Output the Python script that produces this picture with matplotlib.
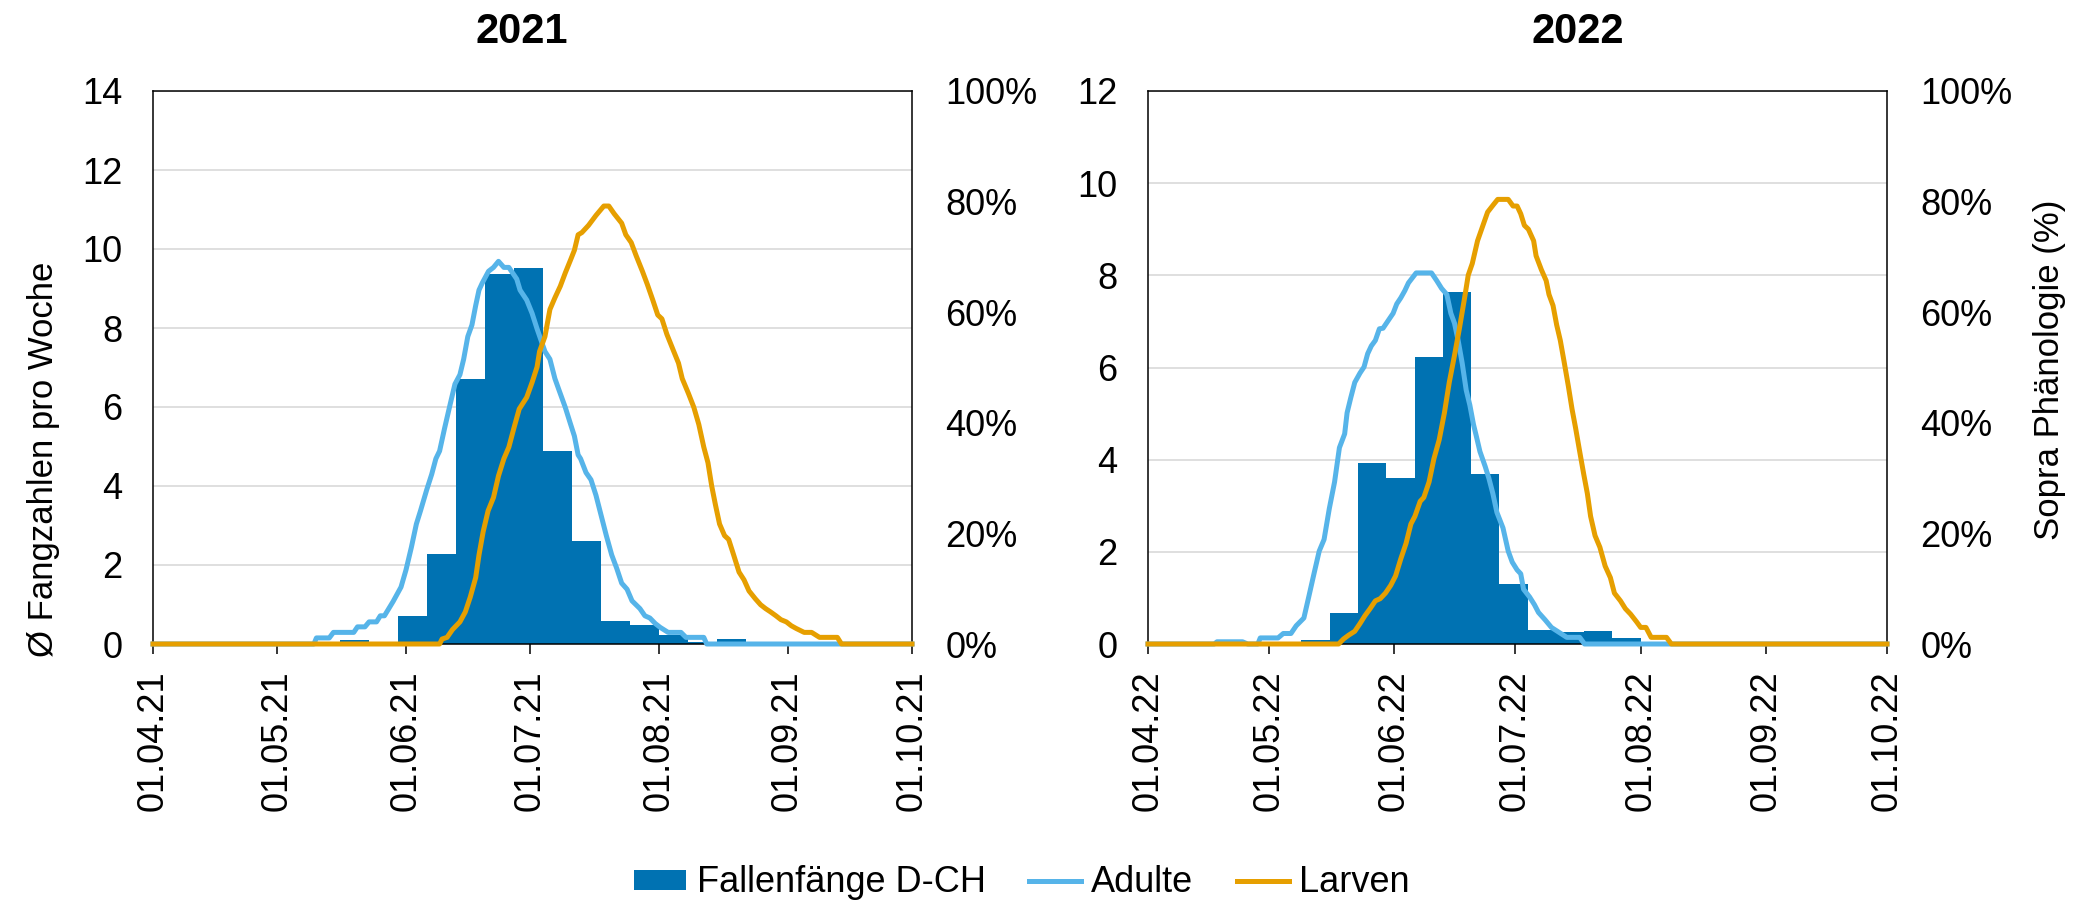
import numpy as np
import matplotlib
matplotlib.use('Agg')
import matplotlib.pyplot as plt
import matplotlib.dates as mdates
from matplotlib.patches import Patch
from matplotlib.lines import Line2D
from matplotlib.ticker import FuncFormatter

plt.rcParams['font.family'] = ['Liberation Sans', 'DejaVu Sans']

# ---------------- data ----------------
years = ['2021', '2022']
season_start = {'2021': '2021-04-01', '2022': '2022-04-01'}
season_end = {'2021': '2021-10-01', '2022': '2022-10-01'}
tick_months = ['04-01', '05-01', '06-01', '07-01', '08-01', '09-01', '10-01']
ymax_left = {'2021': 14, '2022': 12}

# weekly trap catches (Fallenfänge D-CH), week start dates and mean catch per week
bar21_weeks = ['2021-04-25', '2021-05-02', '2021-05-09', '2021-05-16', '2021-05-23',
               '2021-05-30', '2021-06-06', '2021-06-13', '2021-06-20', '2021-06-27',
               '2021-07-04', '2021-07-11', '2021-07-18', '2021-07-25', '2021-08-01',
               '2021-08-08', '2021-08-15', '2021-08-22']
bar21_vals = [0.03, 0, 0, 0.10, 0, 0.71, 2.29, 6.72, 9.37, 9.53,
              4.88, 2.60, 0.59, 0.48, 0.22, 0.05, 0.13, 0]

bar22_weeks = ['2022-05-09', '2022-05-16', '2022-05-23', '2022-05-30', '2022-06-06',
               '2022-06-13', '2022-06-20', '2022-06-27', '2022-07-04', '2022-07-11',
               '2022-07-18', '2022-07-25', '2022-08-01', '2022-08-08']
bar22_vals = [0.08, 0.67, 3.93, 3.60, 6.22, 7.63, 3.68, 1.30, 0.30, 0.25,
              0.28, 0.13, 0.05, 0]

# phenology curves (days after 1 April, percent)
ad21_d = [0, 38.8, 39.4, 42.5, 43.5, 48.4, 49.3, 51.1, 52.1, 53.9, 54.8, 55.8, 57.9, 59.8,
          61.0, 62.3, 63.5, 64.5, 66.0, 67.2, 68.2, 69.1, 70.3, 71.6, 72.8, 74.0, 74.9, 75.9,
          76.9, 77.8, 78.6, 79.4, 80.9, 82.1, 83.3, 84.6, 85.8, 87.7, 88.5, 90.1, 91.4, 92.6,
          94.5, 95.7, 96.9, 97.9, 99.4, 100.7, 101.6, 102.5, 103.1, 104.4, 105.6, 106.8, 108.1,
          109.3, 110.6, 111.8, 113.0, 114.3, 115.5, 117.4, 118.6, 119.8, 121.1, 122.3, 124.2,
          127.3, 128.5, 132.8, 133.5, 183]
ad21_p = [0, 0, 1.1, 1.1, 2.1, 2.1, 3.1, 3.1, 4.0, 4.0, 5.1, 5.1, 7.7, 10.3,
          13.4, 17.5, 21.7, 24.1, 27.9, 30.7, 33.5, 34.9, 39.0, 43.2, 47.0, 48.7, 51.5, 55.6,
          57.7, 61.2, 64.0, 65.3, 67.4, 68.1, 69.2, 68.1, 68.1, 66.0, 64.0, 62.2, 59.8, 57.0,
          52.9, 51.5, 48.0, 45.9, 42.8, 39.7, 37.6, 34.2, 33.5, 31.0, 29.7, 26.9, 23.1,
          19.6, 16.1, 13.7, 11.0, 9.9, 7.8, 6.4, 5.1, 4.7, 3.7, 3.0, 2.1,
          2.1, 1.2, 1.2, 0, 0]

lv21_d = [0, 69.1, 69.7, 70.9, 72.2, 74.0, 75.3, 76.5, 77.8, 78.6, 79.6, 80.8, 82.1, 83.3,
          84.6, 85.8, 87.0, 88.3, 90.1, 91.4, 92.6, 93.2, 94.5, 95.7, 96.9, 98.2, 99.4, 100.7,
          101.6, 102.5, 103.4, 105.0, 106.8, 108.7, 109.9, 111.2, 113.0, 114.0, 115.3, 116.5,
          118.0, 119.2, 120.5, 121.7, 122.7, 123.9, 125.4, 126.7, 127.6, 129.1, 130.4, 131.6,
          132.8, 133.8, 134.7, 135.6, 136.6, 137.8, 138.8, 140.0, 141.3, 142.5, 143.7, 145.2,
          146.5, 147.7, 148.9, 150.2, 151.4, 152.7, 153.9, 155.1, 157.0, 158.8, 160.7, 165.0,
          166.0, 183]
lv21_p = [0, 0, 0.9, 1.2, 2.6, 4.0, 5.8, 8.5, 12.0, 16.1, 20.3, 24.1, 26.5, 30.4,
          33.5, 35.6, 39.0, 42.5, 44.6, 47.3, 50.1, 52.9, 55.6, 60.5, 62.6, 64.7, 67.1, 69.5,
          71.2, 74.0, 74.4, 75.7, 77.5, 79.2, 79.2, 77.8, 76.1, 74.0, 72.6, 70.2,
          67.4, 65.0, 62.2, 59.5, 58.8, 56.0, 53.2, 50.8, 48.0, 45.3, 42.8, 39.7,
          35.6, 32.8, 28.6, 25.2, 21.7, 19.6, 18.9, 16.1, 13.0, 11.6, 9.6, 8.2,
          7.1, 6.4, 5.8, 5.1, 4.4, 4.0, 3.3, 2.8, 2.1, 2.1, 1.2, 1.2,
          0, 0]

ad22_d = [0, 16.4, 17.1, 23.4, 24.7, 27.2, 27.8, 32.2, 33.5, 35.4, 36.7, 38.6, 39.8, 41.1,
          42.4, 43.6, 44.9, 46.2, 47.4, 48.7, 49.3, 50.2, 51.2, 52.5, 53.5, 54.4, 55.3, 56.3,
          57.3, 58.2, 59.4, 60.7, 61.6, 62.6, 63.6, 64.5, 66.4, 70.2, 71.5, 72.7, 74.0, 75.0,
          75.9, 76.8, 77.8, 78.8, 79.7, 80.6, 81.3, 82.2, 83.5, 84.4, 85.4, 86.4, 87.9, 89.2,
          90.2, 91.4, 92.3, 93.0, 94.5, 95.7, 96.7, 98.3, 99.9, 101.8, 103.7, 106.9, 108.1, 183]
ad22_p = [0, 0, 0.4, 0.4, 0, 0, 1.1, 1.1, 1.9, 1.9, 3.3, 4.7, 8.5, 12.7,
          16.8, 18.9, 24.5, 29.3, 35.5, 38.0, 41.8, 44.5, 47.3, 49.0, 50.1, 52.5, 53.9, 54.9,
          57.0, 57.1, 58.4, 59.8, 61.5, 62.6, 63.9, 65.3, 67.1, 67.1, 65.7, 64.3, 63.2, 59.8,
          58.0, 54.9, 50.8, 45.9, 43.2, 39.7, 37.6, 34.8, 32.1, 30.0, 27.2, 23.8, 21.0, 16.8,
          14.8, 13.4, 12.7, 9.9, 8.5, 7.1, 5.7, 4.4, 3.0, 2.1, 1.2, 1.2, 0, 0]

lv22_d = [0, 47.2, 48.4, 49.7, 51.2, 52.5, 53.7, 55.0, 56.3, 57.5, 58.8, 60.1, 61.3, 62.6,
          63.9, 65.1, 66.1, 67.4, 68.3, 69.6, 70.8, 72.1, 73.4, 74.6, 75.9, 77.1, 78.4, 79.3,
          80.3, 81.6, 82.8, 84.1, 85.6, 86.6, 89.2, 90.4, 91.4, 92.3, 93.2, 94.2, 95.5, 96.1,
          97.4, 98.6, 99.3, 100.3, 101.2, 102.1, 103.1, 104.1, 105.0, 105.9, 106.9, 107.9,
          108.8, 109.6, 110.7, 111.9, 113.2, 114.5, 115.5, 117.0, 118.2, 119.5, 121.0, 122.0,
          123.3, 124.6, 128.4, 129.6, 183]
lv22_p = [0, 0, 0.9, 1.6, 2.3, 3.7, 5.1, 6.4, 7.8, 8.2, 9.2, 10.6, 12.3, 15.4,
          18.2, 21.7, 23.1, 25.8, 26.5, 29.3, 33.5, 36.9, 41.8, 47.3, 52.2, 57.0, 62.6, 66.7,
          68.8, 72.9, 75.4, 78.1, 79.5, 80.4, 80.4, 79.2, 79.2, 77.8, 75.7, 75.0, 72.9, 70.2,
          67.7, 65.7, 63.2, 61.2, 57.7, 54.9, 50.8, 46.6, 42.5, 39.0, 34.8, 30.7,
          27.2, 23.1, 19.6, 17.5, 14.1, 12.0, 9.2, 7.8, 6.4, 5.4, 4.0, 3.0,
          3.0, 1.2, 1.2, 0, 0]

bars = {'2021': (bar21_weeks, bar21_vals), '2022': (bar22_weeks, bar22_vals)}
adulte = {'2021': (ad21_d, ad21_p), '2022': (ad22_d, ad22_p)}
larven = {'2021': (lv21_d, lv21_p), '2022': (lv22_d, lv22_p)}

legend_labels = ['Fallenfänge D-CH', 'Adulte', 'Larven']
ylabel_left = 'Ø Fangzahlen pro Woche'
ylabel_right = 'Sopra Phänologie (%)'

# ---------------- style ----------------
C_BAR = '#0072B2'
C_AD = '#56B4E9'
C_LV = '#E69F00'
C_GRID = '#D9D9D9'
FS = 26
LW = 3.6

W, H = 2098, 906
fig = plt.figure(figsize=(W / 100, H / 100), dpi=100)

panel_px = {'2021': (153, 912), '2022': (1148, 1887)}
top_px, bot_px = 91, 644
title_x = {'2021': 522, '2022': 1578}

for yr in years:
    l, r = panel_px[yr]
    ax = fig.add_axes([l / W, 1 - bot_px / H, (r - l) / W, (bot_px - top_px) / H])
    base = mdates.date2num(np.datetime64(season_start[yr]))
    end = mdates.date2num(np.datetime64(season_end[yr]))
    ax.set_xlim(base, end)
    ymax = ymax_left[yr]
    ax.set_ylim(0, ymax)
    ax.set_yticks(np.arange(0, ymax + 1, 2))
    ax.yaxis.grid(True, color=C_GRID, lw=1.2)
    ax.set_axisbelow(True)

    wk, vals = bars[yr]
    wk_num = [mdates.date2num(np.datetime64(w)) for w in wk]
    xs = wk_num + [wk_num[-1] + 7]
    ys = list(vals) + [0]
    ax.fill_between(xs, ys, step='post', color=C_BAR, lw=0, zorder=2)

    for sp in ax.spines.values():
        sp.set_color('black')
        sp.set_linewidth(1.1)

    ticks = [mdates.date2num(np.datetime64(f'{yr}-{m}')) for m in tick_months]
    ax.set_xticks(ticks)
    ax.set_xticklabels([f'{m[3:5]}.{m[0:2]}.{yr[2:]}' for m in tick_months])
    ax.tick_params(axis='x', direction='out', length=7, width=1.1, pad=12,
                   labelsize=FS, labelrotation=90)
    ax.tick_params(axis='y', length=0, pad=22, labelsize=FS)

    ax2 = ax.twinx()
    ax2.set_ylim(0, 100)
    ax2.set_yticks(np.arange(0, 101, 20))
    ax2.yaxis.set_major_formatter(FuncFormatter(lambda v, p: f'{int(round(v))}%'))
    ax2.tick_params(axis='y', length=0, pad=24, labelsize=FS)
    for sp in ax2.spines.values():
        sp.set_visible(False)

    d, p = adulte[yr]
    ax2.plot(base + np.asarray(d), p, color=C_AD, lw=LW, clip_on=False, zorder=3,
             solid_joinstyle='round')
    d, p = larven[yr]
    ax2.plot(base + np.asarray(d), p, color=C_LV, lw=LW, clip_on=False, zorder=4,
             solid_joinstyle='round')

    fig.text(title_x[yr] / W, 1 - 43 / H, yr, ha='center', va='baseline',
             fontsize=30, fontweight='bold')

fig.text(44 / W, 1 - 459 / H, ylabel_left, rotation=90, ha='center', va='center',
         fontsize=25)
fig.text(2050 / W, 1 - 370 / H, ylabel_right, rotation=90, ha='center', va='center',
         fontsize=25)

handles = [Patch(facecolor=C_BAR, edgecolor='none'),
           Line2D([], [], color=C_AD, lw=LW),
           Line2D([], [], color=C_LV, lw=LW)]
fig.legend(handles, legend_labels, loc='center', bbox_to_anchor=(1022 / W, 1 - 883 / H),
           ncol=3, frameon=False, fontsize=FS, handlelength=1.45, handleheight=0.47,
           handletextpad=0.28, columnspacing=1.2, borderpad=0, borderaxespad=0)

fig.savefig('out.png', dpi=100)
